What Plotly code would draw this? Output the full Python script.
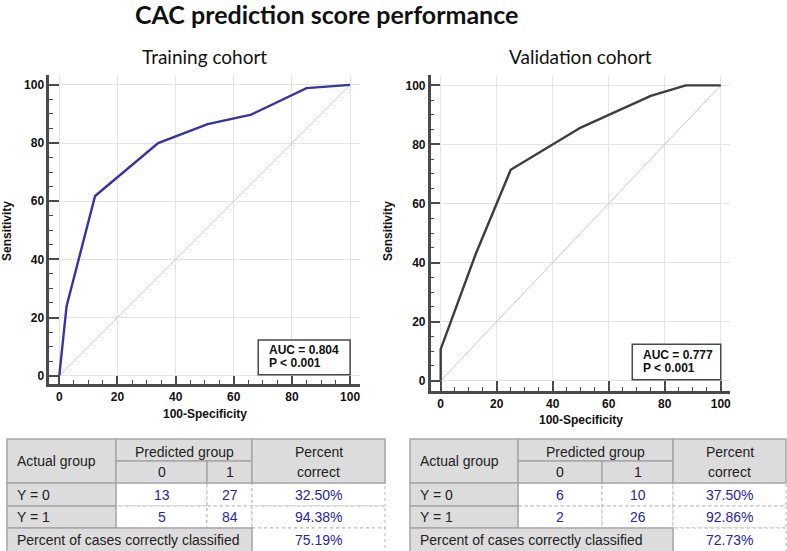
import plotly.graph_objects as go

# ---------------- data ----------------
train_fpr = [0, 2.5, 12.3, 34, 51, 66, 85, 100]
train_tpr = [0, 23.9, 61.8, 80, 86.5, 89.8, 98.9, 100]
valid_fpr = [0, 0, 12.5, 25, 50, 75, 87.5, 100]
valid_tpr = [0, 10.7, 42.9, 71.4, 85.7, 96.4, 100, 100]
diag = [0, 100]
auc_text = ["AUC = 0.804", "AUC = 0.777"]
p_text = ["P < 0.001", "P < 0.001"]
cohorts = ["Training cohort", "Validation cohort"]
row_labels = ["Y = 0", "Y = 1"]
pred_labels = ["0", "1"]
train_counts = [[13, 27], [5, 84]]
valid_counts = [[6, 10], [2, 26]]
train_pct = ["32.50%", "94.38%"]
valid_pct = ["37.50%", "92.86%"]
train_overall = "75.19%"
valid_overall = "72.73%"
tick_vals = [0, 20, 40, 60, 80, 100]

W, H = 787, 551
def px(x):
    return x / W
def py(y):
    return 1 - y / H

fig = go.Figure()

# ---------------- ROC plots ----------------
panels = [
    dict(xa="x", ya="y", fpr=train_fpr, tpr=train_tpr, col="#3434a2", dcol="#e2c2c2",
         dom_x=(49.3, 360), dom_y=(75, 384), xr=(-3.44, 103.4), yr=(-2.86, 103.4),
         xlen=8, ylen=10, cx=204.6, sens_x=7, spec_y=414),
    dict(xa="x2", ya="y2", fpr=valid_fpr, tpr=valid_tpr, col="#3d3d3d", dcol="#c8c8c8",
         dom_x=(430.7, 730), dom_y=(75, 390.7), xr=(-3.57, 103.3), yr=(-3.39, 103.5),
         xlen=10, ylen=10, cx=580.7, sens_x=388, spec_y=420),
]

for i, p in enumerate(panels):
    fig.add_trace(go.Scatter(x=diag, y=diag, mode="lines", xaxis=p["xa"], yaxis=p["ya"],
                             line=dict(color=p["dcol"], width=1), showlegend=False, hoverinfo="skip"))
    fig.add_trace(go.Scatter(x=p["fpr"], y=p["tpr"], mode="lines", xaxis=p["xa"], yaxis=p["ya"],
                             line=dict(color=p["col"], width=2.4), showlegend=False))
    sfx = "" if i == 0 else str(i + 1)
    common = dict(showline=True, linecolor="#4a4a4a", linewidth=2.5, showgrid=True,
                  gridcolor="#e4e4e4", gridwidth=1, zeroline=False, tickvals=tick_vals,
                  ticks="inside", tickcolor="#4a4a4a", tickwidth=1.5,
                  tickfont=dict(family="Liberation Sans, Arial", size=12, color="#111", weight="bold"),
                  minor=dict(ticks="inside", dtick=5, ticklen=4, tickcolor="#4a4a4a", tickwidth=1, showgrid=False),
                  fixedrange=True)
    fig.layout["xaxis" + sfx] = dict(common, domain=[px(p["dom_x"][0]), px(p["dom_x"][1])],
                                     range=list(p["xr"]), ticklen=p["xlen"],
                                     anchor="y" + sfx)
    fig.layout["yaxis" + sfx] = dict(common, domain=[py(p["dom_y"][1]), py(p["dom_y"][0])],
                                     range=list(p["yr"]), ticklen=p["ylen"],
                                     anchor="x" + sfx)
    # AUC box
    fig.add_shape(type="rect", xref=p["xa"], yref=p["ya"], x0=68.4, x1=100, y0=0.3, y1=12.3,
                  line=dict(color="#4a4a4a", width=1.5), fillcolor="white", layer="above")
    for txt, yy in [(auc_text[i], 8.7), (p_text[i], 4.2)]:
        fig.add_annotation(x=71.4, y=yy, xref=p["xa"], yref=p["ya"], text=txt, showarrow=False,
                           xanchor="left", yanchor="middle",
                           font=dict(family="Liberation Sans, Arial", size=12, color="#111", weight="bold"))
    # titles
    fig.add_annotation(x=px(p["cx"]), y=py(57), xref="paper", yref="paper", text=cohorts[i],
                       showarrow=False, xanchor="center", yanchor="middle",
                       font=dict(family="Lato", size=19, color="#111"))
    fig.add_annotation(x=px(p["sens_x"]), y=py(231), xref="paper", yref="paper", text="Sensitivity",
                       showarrow=False, textangle=-90, xanchor="center", yanchor="middle",
                       font=dict(family="Liberation Sans, Arial", size=12, color="#111", weight="bold"))
    fig.add_annotation(x=px(p["cx"]), y=py(p["spec_y"]), xref="paper", yref="paper", text="100-Specificity",
                       showarrow=False, xanchor="center", yanchor="middle",
                       font=dict(family="Liberation Sans, Arial", size=12, color="#111", weight="bold"))

fig.add_annotation(x=px(133), y=py(14), xref="paper", yref="paper",
                   text="<b>CAC prediction score performance</b>", showarrow=False,
                   xanchor="left", yanchor="middle",
                   font=dict(family="Lato", size=25, color="#111"))

# ---------------- tables ----------------
rows = [439, 461, 483, 506, 528, 553]
tables = [
    dict(cols=[7, 116, 207, 252, 385], counts=train_counts, pct=train_pct, overall=train_overall),
    dict(cols=[410, 518, 602, 673, 786], counts=valid_counts, pct=valid_pct, overall=valid_overall),
]
GREY = "#dcdcdc"
GBORD = "#a6a6a6"
BLUE = "#2626a6"
TFONT = "Liberation Sans, Arial"

def rect(x0, x1, y0, y1, fill, dash):
    fig.add_shape(type="rect", xref="paper", yref="paper", x0=px(x0), x1=px(x1), y0=py(y1), y1=py(y0),
                  fillcolor=fill, line=dict(color=GBORD if dash == "solid" else "#b8b8b8",
                                            width=1.5 if dash == "solid" else 1, dash=dash), layer="above")

def text(x, y, s, color="#222", anchor="center"):
    fig.add_annotation(x=px(x), y=py(y), xref="paper", yref="paper", text=s, showarrow=False,
                       xanchor=anchor, yanchor="middle", font=dict(family=TFONT, size=14, color=color))

for t in tables:
    c = t["cols"]
    # white data cells (dotted)
    for r in range(2):
        for k in range(3):
            rect(c[k + 1], c[k + 2], rows[r + 2], rows[r + 3], "white", "dot")
    rect(c[3], c[4], rows[4], rows[5], "white", "dot")
    # grey header cells
    rect(c[0], c[1], rows[0], rows[2], GREY, "solid")
    rect(c[1], c[3], rows[0], rows[1], GREY, "solid")
    rect(c[1], c[2], rows[1], rows[2], GREY, "solid")
    rect(c[2], c[3], rows[1], rows[2], GREY, "solid")
    rect(c[3], c[4], rows[0], rows[2], GREY, "solid")
    rect(c[0], c[1], rows[2], rows[3], GREY, "solid")
    rect(c[0], c[1], rows[3], rows[4], GREY, "solid")
    rect(c[0], c[3], rows[4], rows[5], GREY, "solid")

    text(c[0] + 8, 461, "Actual group", anchor="left")
    text((c[1] + c[3]) / 2, 451.5, "Predicted group")
    text((c[1] + c[2]) / 2, 472, pred_labels[0])
    text((c[2] + c[3]) / 2, 472, pred_labels[1])
    text((c[3] + c[4]) / 2, 451.5, "Percent")
    text((c[3] + c[4]) / 2, 471.5, "correct")
    for r in range(2):
        yc = (rows[r + 2] + rows[r + 3]) / 2
        text(c[0] + 8, yc, row_labels[r], anchor="left")
        text((c[1] + c[2]) / 2, yc, str(t["counts"][r][0]), color=BLUE)
        text((c[2] + c[3]) / 2, yc, str(t["counts"][r][1]), color=BLUE)
        text((c[3] + c[4]) / 2, yc, t["pct"][r], color=BLUE)
    text(c[0] + 8, 540, "Percent of cases correctly classified", anchor="left")
    text((c[3] + c[4]) / 2, 540, t["overall"], color=BLUE)

fig.update_layout(width=W, height=H, margin=dict(l=0, r=0, t=0, b=0),
                  paper_bgcolor="white", plot_bgcolor="white", showlegend=False)

fig.write_html("out.html", config={"displayModeBar": False},
               post_script="document.body.style.margin='0px';document.body.style.overflow='hidden';")
